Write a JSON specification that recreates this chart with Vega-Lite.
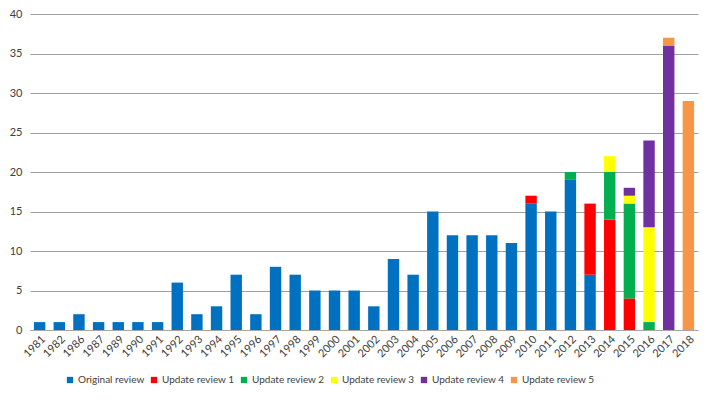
{
  "$schema": "https://vega.github.io/schema/vega-lite/v6.json",
  "width": 668,
  "height": 316,
  "autosize": {"type": "none"},
  "padding": {"left": 30, "top": 14, "right": 16, "bottom": 70},
  "background": "white",
  "config": {
    "view": {"stroke": null},
    "font": "Lato"
  },
  "data": {
    "values": [
      {"year": "1981", "type": "Original review", "n": 1},
      {"year": "1982", "type": "Original review", "n": 1},
      {"year": "1986", "type": "Original review", "n": 2},
      {"year": "1987", "type": "Original review", "n": 1},
      {"year": "1989", "type": "Original review", "n": 1},
      {"year": "1990", "type": "Original review", "n": 1},
      {"year": "1991", "type": "Original review", "n": 1},
      {"year": "1992", "type": "Original review", "n": 6},
      {"year": "1993", "type": "Original review", "n": 2},
      {"year": "1994", "type": "Original review", "n": 3},
      {"year": "1995", "type": "Original review", "n": 7},
      {"year": "1996", "type": "Original review", "n": 2},
      {"year": "1997", "type": "Original review", "n": 8},
      {"year": "1998", "type": "Original review", "n": 7},
      {"year": "1999", "type": "Original review", "n": 5},
      {"year": "2000", "type": "Original review", "n": 5},
      {"year": "2001", "type": "Original review", "n": 5},
      {"year": "2002", "type": "Original review", "n": 3},
      {"year": "2003", "type": "Original review", "n": 9},
      {"year": "2004", "type": "Original review", "n": 7},
      {"year": "2005", "type": "Original review", "n": 15},
      {"year": "2006", "type": "Original review", "n": 12},
      {"year": "2007", "type": "Original review", "n": 12},
      {"year": "2008", "type": "Original review", "n": 12},
      {"year": "2009", "type": "Original review", "n": 11},
      {"year": "2010", "type": "Original review", "n": 16},
      {"year": "2010", "type": "Update review 1", "n": 1},
      {"year": "2011", "type": "Original review", "n": 15},
      {"year": "2012", "type": "Original review", "n": 19},
      {"year": "2012", "type": "Update review 2", "n": 1},
      {"year": "2013", "type": "Original review", "n": 7},
      {"year": "2013", "type": "Update review 1", "n": 9},
      {"year": "2014", "type": "Update review 1", "n": 14},
      {"year": "2014", "type": "Update review 2", "n": 6},
      {"year": "2014", "type": "Update review 3", "n": 2},
      {"year": "2015", "type": "Update review 1", "n": 4},
      {"year": "2015", "type": "Update review 2", "n": 12},
      {"year": "2015", "type": "Update review 3", "n": 1},
      {"year": "2015", "type": "Update review 4", "n": 1},
      {"year": "2016", "type": "Update review 2", "n": 1},
      {"year": "2016", "type": "Update review 3", "n": 12},
      {"year": "2016", "type": "Update review 4", "n": 11},
      {"year": "2017", "type": "Update review 4", "n": 36},
      {"year": "2017", "type": "Update review 5", "n": 1},
      {"year": "2018", "type": "Update review 5", "n": 29}
    ]
  },
  "mark": {"type": "bar"},
  "encoding": {
    "x": {
      "field": "year",
      "type": "ordinal",
      "scale": {"paddingInner": 0.42, "paddingOuter": 0.2},
      "axis": {
        "title": null,
        "labelAngle": -45,
        "labelAlign": "right",
        "labelBaseline": "top",
        "labelFontSize": 11,
        "labelColor": "#404040",
        "ticks": false,
        "labelPadding": 3,
        "domainColor": "#a6a6a6",
        "grid": false
      }
    },
    "y": {
      "field": "n",
      "type": "quantitative",
      "aggregate": "sum",
      "scale": {"domain": [0, 40]},
      "axis": {
        "title": null,
        "values": [0, 5, 10, 15, 20, 25, 30, 35, 40],
        "labelFontSize": 11,
        "labelColor": "#404040",
        "ticks": false,
        "domain": false,
        "labelPadding": 8,
        "gridColor": "#a0a0a0",
        "gridWidth": 1
      }
    },
    "order": {"field": "type", "sort": "ascending"},
    "color": {
      "field": "type",
      "type": "nominal",
      "scale": {
        "domain": ["Original review", "Update review 1", "Update review 2", "Update review 3", "Update review 4", "Update review 5"],
        "range": ["#0070C0", "#FF0000", "#00B050", "#FFFF00", "#7030A0", "#F79646"]
      },
      "legend": {
        "title": null,
        "orient": "none",
        "legendX": 35,
        "legendY": 361,
        "direction": "horizontal",
        "symbolType": "square",
        "symbolSize": 40,
        "symbolStrokeWidth": 0,
        "labelFontSize": 10,
        "labelColor": "#404040",
        "columnPadding": 4,
        "labelOffset": 3
      }
    }
  }
}
